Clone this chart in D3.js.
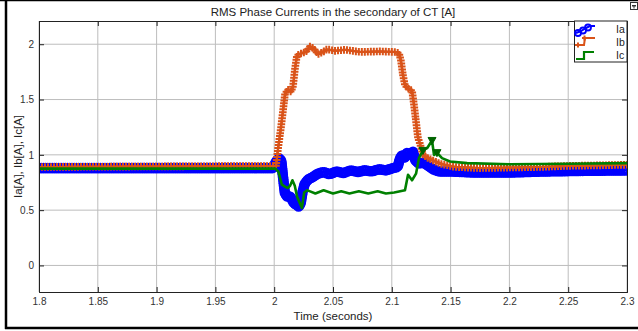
<!DOCTYPE html>
<html>
<head>
<meta charset="utf-8">
<script src="https://cdn.jsdelivr.net/npm/d3@7"></script>
<style>
  body { margin: 0; background: #fff; }
  svg { display: block; font-family: "Liberation Sans", Arial, sans-serif; }
</style>
</head>
<body>
<div id="chart"></div>
<script>
// RMS currents: [time (s), current (A)]
const Ia = [
  [1.8, 0.88], [1.9995, 0.88], [2.001, 0.93], [2.004, 0.97], [2.006, 0.95], [2.0075, 0.8],
  [2.009, 0.66], [2.011, 0.62], [2.013, 0.63], [2.015, 0.6], [2.017, 0.56], [2.019, 0.55],
  [2.021, 0.53], [2.0225, 0.56], [2.024, 0.66], [2.026, 0.74], [2.029, 0.78], [2.033, 0.8],
  [2.037, 0.83], [2.042, 0.845], [2.047, 0.825], [2.053, 0.85], [2.059, 0.835], [2.065, 0.86],
  [2.071, 0.845], [2.077, 0.86], [2.083, 0.85], [2.089, 0.87], [2.095, 0.86], [2.101, 0.88],
  [2.105, 0.89], [2.107, 0.97], [2.109, 1.0], [2.111, 0.97], [2.113, 1.02], [2.116, 1.0],
  [2.118, 1.03], [2.12, 0.95], [2.123, 0.92], [2.127, 0.93], [2.131, 0.9], [2.135, 0.87],
  [2.14, 0.85], [2.15, 0.85], [2.17, 0.84], [2.2, 0.84], [2.23, 0.85], [2.26, 0.855], [2.3, 0.86]
];
const Ib = [
  [1.8, 0.89], [2.0015, 0.9], [2.0032, 1.05], [2.0058, 1.25], [2.0075, 1.4], [2.0092, 1.55],
  [2.0117, 1.59], [2.0143, 1.57], [2.016, 1.62], [2.0177, 1.78], [2.0194, 1.9], [2.0236, 1.92],
  [2.027, 1.93], [2.0304, 1.98], [2.0338, 1.96], [2.0372, 1.91], [2.0415, 1.93], [2.0449, 1.955],
  [2.0517, 1.94], [2.0602, 1.95], [2.073, 1.93], [2.09, 1.935], [2.1027, 1.93], [2.1061, 1.92],
  [2.1078, 1.85], [2.1095, 1.72], [2.1112, 1.63], [2.1138, 1.6], [2.1172, 1.58], [2.1189, 1.45],
  [2.1206, 1.3], [2.1223, 1.15], [2.124, 1.1], [2.1265, 1.0], [2.1308, 0.97], [2.135, 0.95],
  [2.141, 0.92], [2.1537, 0.89], [2.175, 0.88], [2.2, 0.885], [2.226, 0.89], [2.25, 0.9],
  [2.277, 0.905], [2.3, 0.91]
];
const Ic = [
  [1.8, 0.875], [2.001, 0.875], [2.0035, 0.85], [2.0065, 0.73], [2.0095, 0.71], [2.0115, 0.7],
  [2.0135, 0.72], [2.0155, 0.77], [2.0175, 0.72], [2.0195, 0.62], [2.0236, 0.52], [2.0255, 0.66],
  [2.028, 0.68], [2.0305, 0.67], [2.035, 0.65], [2.042, 0.68], [2.05, 0.65], [2.057, 0.67],
  [2.064, 0.65], [2.072, 0.67], [2.08, 0.65], [2.088, 0.67], [2.095, 0.65], [2.102, 0.66],
  [2.1112, 0.68], [2.1138, 0.82], [2.1172, 0.77], [2.1206, 0.83], [2.1231, 0.97], [2.1265, 1.04],
  [2.13, 1.06], [2.1342, 1.13], [2.1359, 1.0], [2.1384, 1.02], [2.1427, 0.97], [2.1495, 0.94],
  [2.164, 0.925], [2.2, 0.915], [2.25, 0.92], [2.3, 0.925]
];
const IcMarkerTimes = [2.1265, 2.1342, 2.1384];

const xTicks = [1.8, 1.85, 1.9, 1.95, 2, 2.05, 2.1, 2.15, 2.2, 2.25, 2.3];
const yTicks = [0, 0.5, 1, 1.5, 2];
const seriesNames = ['Ia', 'Ib', 'Ic'];
const colors = { Ia: '#0000ff', Ib: '#d95319', Ic: '#008000' };

const width = 638, height = 331;
const m = { left: 39, right: 627, top: 21, bottom: 292 };

const svg = d3.select('#chart').append('svg')
  .attr('width', width)
  .attr('height', height);

svg.append('rect').attr('width', width).attr('height', height).attr('fill', '#fff');

const x = d3.scaleLinear().domain([1.8, 2.3]).range([m.left, m.right]);
const y = d3.scaleLinear().domain([-0.24, 2.21]).range([m.bottom, m.top]);

// grid
const grid = svg.append('g');
grid.selectAll('.gx').data(xTicks).enter().append('line')
  .attr('x1', d => x(d)).attr('x2', d => x(d))
  .attr('y1', m.top).attr('y2', m.bottom)
  .attr('stroke', '#bdbdbd').attr('stroke-width', 1);
grid.selectAll('.gy').data(yTicks).enter().append('line')
  .attr('x1', m.left).attr('x2', m.right)
  .attr('y1', d => y(d)).attr('y2', d => y(d))
  .attr('stroke', '#bdbdbd').attr('stroke-width', 1);

svg.append('clipPath').attr('id', 'clip')
  .append('rect').attr('x', m.left).attr('y', m.top)
  .attr('width', m.right - m.left).attr('height', m.bottom - m.top);

const plot = svg.append('g').attr('clip-path', 'url(#clip)');
const line = d3.line().x(d => x(d[0])).y(d => y(d[1]));

// markers spaced along the drawn path
function along(path, step) {
  const node = path.node();
  const len = node.getTotalLength();
  const pts = [];
  for (let l = 0; l <= len; l += step) {
    const p = node.getPointAtLength(l);
    pts.push([p.x, p.y]);
  }
  return pts;
}

// Ia, circles
const pa = plot.append('path').datum(Ia)
  .attr('d', line).attr('fill', 'none')
  .attr('stroke', colors.Ia).attr('stroke-width', 2);
plot.append('g').selectAll('circle').data(along(pa, 2.2)).enter().append('circle')
  .attr('cx', d => d[0]).attr('cy', d => d[1]).attr('r', 4.2)
  .attr('fill', 'none').attr('stroke', colors.Ia).attr('stroke-width', 2.2);

// Ib, plus signs
const pb = plot.append('path').datum(Ib)
  .attr('d', line).attr('fill', 'none')
  .attr('stroke', colors.Ib).attr('stroke-width', 2);
plot.append('g').selectAll('path').data(along(pb, 3)).enter().append('path')
  .attr('d', d => `M${d[0] - 3.8},${d[1]}h7.6M${d[0]},${d[1] - 3.8}v7.6`)
  .attr('stroke', colors.Ib).attr('stroke-width', 2);

// Ic, plain line with a few triangles
plot.append('path').datum(Ic)
  .attr('d', line).attr('fill', 'none')
  .attr('stroke', colors.Ic).attr('stroke-width', 2.6)
  .attr('stroke-linejoin', 'round');
plot.append('g').selectAll('path')
  .data(Ic.filter(d => IcMarkerTimes.includes(d[0]))).enter().append('path')
  .attr('d', d => {
    const cx = x(d[0]), cy = y(d[1]);
    return `M${cx - 4},${cy - 3}L${cx + 4},${cy - 3}L${cx},${cy + 4}Z`;
  })
  .attr('fill', '#006400').attr('stroke', '#006400').attr('stroke-width', 1);

// axes box with inward ticks
const fmt = d => String(d);
svg.append('g').attr('transform', `translate(0,${m.bottom})`)
  .call(d3.axisBottom(x).tickValues(xTicks).tickFormat(fmt).tickSize(-5).tickPadding(6));
svg.append('g').attr('transform', `translate(${m.left},0)`)
  .call(d3.axisLeft(y).tickValues(yTicks).tickFormat(fmt).tickSize(-5).tickPadding(5));
svg.append('g').attr('transform', `translate(0,${m.top})`)
  .call(d3.axisTop(x).tickValues(xTicks).tickFormat('').tickSize(-5));
svg.append('g').attr('transform', `translate(${m.right},0)`)
  .call(d3.axisRight(y).tickValues(yTicks).tickFormat('').tickSize(-5));
svg.selectAll('.domain').attr('stroke', '#222');
svg.selectAll('.tick line').attr('stroke', '#222');
svg.selectAll('.tick text').attr('fill', '#333').style('font-size', '10px')
  .style('font-family', '"Liberation Sans", Arial, sans-serif');

// titles
svg.append('text').attr('x', (m.left + m.right) / 2).attr('y', 16)
  .attr('text-anchor', 'middle').style('font-size', '11.5px').attr('fill', '#222')
  .text('RMS Phase Currents in the secondary of CT [A]');
svg.append('text').attr('x', (m.left + m.right) / 2).attr('y', 320)
  .attr('text-anchor', 'middle').style('font-size', '11.5px').attr('fill', '#222')
  .text('Time (seconds)');
svg.append('text')
  .attr('transform', `translate(22,${(m.top + m.bottom) / 2}) rotate(-90)`)
  .attr('text-anchor', 'middle').style('font-size', '11.5px').attr('fill', '#222')
  .text('Ia[A], Ib[A], Ic[A]');

// legend
const lg = svg.append('g');
lg.append('rect').attr('x', 574.5).attr('y', 21).attr('width', 52.5).attr('height', 41)
  .attr('fill', '#fff').attr('stroke', '#222').attr('stroke-width', 1);
lg.selectAll('text').data(seriesNames).enter().append('text')
  .attr('x', 616).attr('y', (d, i) => 33 + i * 13)
  .style('font-size', '10.5px').attr('fill', '#222').text(d => d);
lg.append('path').attr('d', 'M576,33L581,31L586,28L590,26L595,26')
  .attr('fill', 'none').attr('stroke', colors.Ia).attr('stroke-width', 2);
lg.selectAll('circle').data([[578, 33], [583, 30.5], [588, 27.5]]).enter().append('circle')
  .attr('cx', d => d[0]).attr('cy', d => d[1]).attr('r', 3)
  .attr('fill', 'none').attr('stroke', colors.Ia).attr('stroke-width', 1.8);
lg.append('path').attr('d', 'M575,45L584,45L585,38L595,38')
  .attr('fill', 'none').attr('stroke', colors.Ib).attr('stroke-width', 2);
lg.append('path').attr('d', 'M575.5,45h5M578,42.5v5M582,38h5M584.5,35.5v5')
  .attr('stroke', colors.Ib).attr('stroke-width', 2);
lg.append('path').attr('d', 'M576,59L584,59L584,52L594,52')
  .attr('fill', 'none').attr('stroke', colors.Ic).attr('stroke-width', 2.2);

// figure frame and undock icon
svg.append('line').attr('x1', 0).attr('x2', width).attr('y1', 0.5).attr('y2', 0.5)
  .attr('stroke', '#000').attr('stroke-width', 1.5);
svg.append('line').attr('x1', 6).attr('x2', 6).attr('y1', 0).attr('y2', 329)
  .attr('stroke', '#000').attr('stroke-width', 2.5);
svg.append('line').attr('x1', 5).attr('x2', width).attr('y1', 328).attr('y2', 328)
  .attr('stroke', '#000').attr('stroke-width', 2.5);
svg.append('rect').attr('x', 630.5).attr('y', 2.5).attr('width', 7).attr('height', 7)
  .attr('fill', '#fff').attr('stroke', '#333').attr('stroke-width', 1);
svg.append('path').attr('d', 'M632,5.5h4M634,5.5v3M632.5,7l1.5,-1.5l1.5,1.5')
  .attr('fill', 'none').attr('stroke', '#333').attr('stroke-width', 1);
</script>
</body>
</html>
